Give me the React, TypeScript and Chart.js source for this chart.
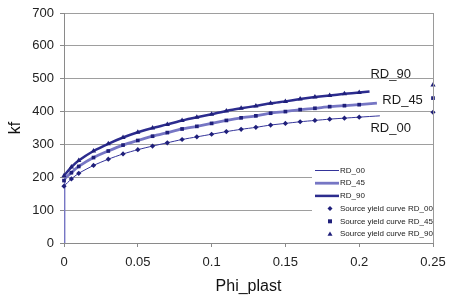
import React, { useEffect, useRef } from "react";
import { Chart, registerables } from "chart.js";

Chart.register(...registerables);

// ---- data ----
const phi = [0, 0.005, 0.01, 0.02, 0.03, 0.04, 0.05, 0.06, 0.07, 0.08, 0.09, 0.1, 0.11, 0.12, 0.13, 0.14, 0.15, 0.16, 0.17, 0.18, 0.19, 0.2];
const kfRD00 = [173, 195, 212, 236, 255, 271, 284, 295, 305, 315, 323, 331, 339, 346, 352, 359, 364, 369, 373, 377, 380, 383];
const kfRD45 = [190, 214, 233, 260, 280, 298, 312, 325, 336, 347, 355, 364, 373, 381, 387, 395, 400, 406, 410, 415, 418, 421];
const kfRD90 = [205, 231, 251, 280, 302, 321, 337, 350, 361, 373, 383, 392, 402, 410, 417, 425, 431, 438, 444, 449, 454, 458];
const seriesNames = ["RD_00", "RD_45", "RD_90"];
const lineEndPhi = [0.214, 0.212, 0.207];
const lineEndKf = [387, 426, 461];
const edgePhi = 0.25;
const edgeKf = [398, 441, 481];
const labelPhi = [0.2076, 0.2157, 0.2076];
const labelKf = [350, 435, 514];
const xTickStep = 0.05;
const xMax = 0.25;
const yTickStep = 100;
const yMax = 700;

const FONT = "'Liberation Sans', Arial, sans-serif";
const lineColors = ["#34349a", "#7676c4", "#2c2c8e"];
const lineWidths = [1, 2.8, 2.5];
const markerColor = "#1f1f7a";
const markerStyles = ["rectRot", "rect", "triangle"];

function drawMarker(ctx: CanvasRenderingContext2D, style: string, x: number, y: number, r: number) {
  ctx.beginPath();
  if (style === "rectRot") {
    ctx.moveTo(x, y - r);
    ctx.lineTo(x + r, y);
    ctx.lineTo(x, y + r);
    ctx.lineTo(x - r, y);
  } else if (style === "rect") {
    ctx.rect(x - r * 0.8, y - r * 0.8, r * 1.6, r * 1.6);
  } else {
    ctx.moveTo(x, y - r);
    ctx.lineTo(x + r, y + r * 0.7);
    ctx.lineTo(x - r, y + r * 0.7);
  }
  ctx.closePath();
  ctx.fill();
}

const annotPlugin = {
  id: "annot",
  afterDatasetsDraw(chart: any) {
    const { ctx, chartArea, scales } = chart;
    ctx.save();
    // right border
    ctx.strokeStyle = "#9a9a9a";
    ctx.lineWidth = 1;
    ctx.beginPath();
    ctx.moveTo(Math.round(chartArea.right) + 0.5, chartArea.top);
    ctx.lineTo(Math.round(chartArea.right) + 0.5, chartArea.bottom);
    ctx.stroke();
    // curve labels
    ctx.fillStyle = "#1a1a1a";
    ctx.font = `13px ${FONT}`;
    ctx.textBaseline = "middle";
    ctx.textAlign = "left";
    seriesNames.forEach((n, i) => {
      ctx.fillText(n, scales.x.getPixelForValue(labelPhi[i]), scales.y.getPixelForValue(labelKf[i]));
    });
    // legend
    const bx = chartArea.right - 121;
    const by = chartArea.bottom - 82;
    ctx.fillStyle = "#ffffff";
    ctx.fillRect(bx, by, chartArea.right - bx, chartArea.bottom - by - 1);
    ctx.font = `8px ${FONT}`;
    const rowH = 12.7;
    chart.data.datasets.forEach((ds: any, i: number) => {
      const y = by + 9.5 + i * rowH;
      if (ds.showLine !== false) {
        ctx.strokeStyle = ds.borderColor;
        ctx.lineWidth = ds.borderWidth;
        ctx.beginPath();
        ctx.moveTo(bx + 3, y);
        ctx.lineTo(bx + 27, y);
        ctx.stroke();
      } else {
        ctx.fillStyle = ds.backgroundColor;
        drawMarker(ctx, ds.pointStyle, bx + 18, y, 2.5);
      }
      ctx.fillStyle = "#1a1a1a";
      ctx.fillText(ds.label, bx + 28, y);
    });
    ctx.restore();
  },
};

export default function App() {
  const ref = useRef<HTMLCanvasElement>(null);
  useEffect(() => {
    document.body.style.margin = "0";
    const lineSets = seriesNames.map((name, i) => {
      const kf = [kfRD00, kfRD45, kfRD90][i];
      const pts = phi.map((p, j) => ({ x: p, y: kf[j] }));
      pts.push({ x: lineEndPhi[i], y: lineEndKf[i] });
      if (i === 1) pts.unshift({ x: 0, y: 0 });
      return {
        label: name,
        data: pts,
        showLine: true,
        borderColor: lineColors[i],
        backgroundColor: lineColors[i],
        borderWidth: lineWidths[i],
        pointRadius: 0,
        tension: 0.25,
        order: 2,
      };
    });
    const srcSets = seriesNames.map((name, i) => {
      const kf = [kfRD00, kfRD45, kfRD90][i];
      const pts = phi.map((p, j) => ({ x: p, y: kf[j] }));
      pts.push({ x: edgePhi, y: edgeKf[i] });
      return {
        label: "Source yield curve " + name,
        data: pts,
        showLine: false,
        pointStyle: markerStyles[i],
        pointRadius: i === 2 ? 3 : 2.6,
        borderWidth: 0,
        borderColor: markerColor,
        backgroundColor: markerColor,
        clip: 6,
        order: 1,
      };
    });
    const chart = new Chart(ref.current!, {
      type: "scatter",
      data: { datasets: [...lineSets, ...srcSets] as any },
      options: {
        animation: false,
        responsive: false,
        layout: { padding: { top: 13, right: 16, left: 0, bottom: 0 } },
        plugins: { legend: { display: false }, tooltip: { enabled: false } },
        scales: {
          x: {
            type: "linear",
            min: 0,
            max: xMax,
            afterFit: (s: any) => { s.height = 53; s.paddingRight = 0; s.paddingLeft = 0; },
            ticks: {
              stepSize: xTickStep,
              padding: 8,
              color: "#222",
              font: { family: FONT, size: 13 },
              callback: (v: any) => String(+Number(v).toFixed(2)),
            },
            grid: { drawOnChartArea: false, tickLength: 4, color: "#8a8a8a" },
            border: { color: "#8a8a8a" },
            title: { display: true, text: "Phi_plast", color: "#111", font: { family: FONT, size: 16 }, padding: { top: 0, bottom: 0 } },
          },
          y: {
            type: "linear",
            min: 0,
            max: yMax,
            afterFit: (s: any) => { s.width = 64; s.paddingTop = 0; s.paddingBottom = 0; },
            ticks: { stepSize: yTickStep, padding: 6, color: "#222", font: { family: FONT, size: 13 } },
            grid: { color: "#9e9e9e", tickLength: 4, tickColor: "#8a8a8a" },
            border: { color: "#8a8a8a" },
            title: { display: true, text: "kf", color: "#111", font: { family: FONT, size: 16 }, padding: { top: 6, bottom: 0 } },
          },
        },
      },
      plugins: [annotPlugin],
    });
    return () => chart.destroy();
  }, []);
  return <canvas ref={ref} width={449} height={296} style={{ display: "block" }} />;
}
